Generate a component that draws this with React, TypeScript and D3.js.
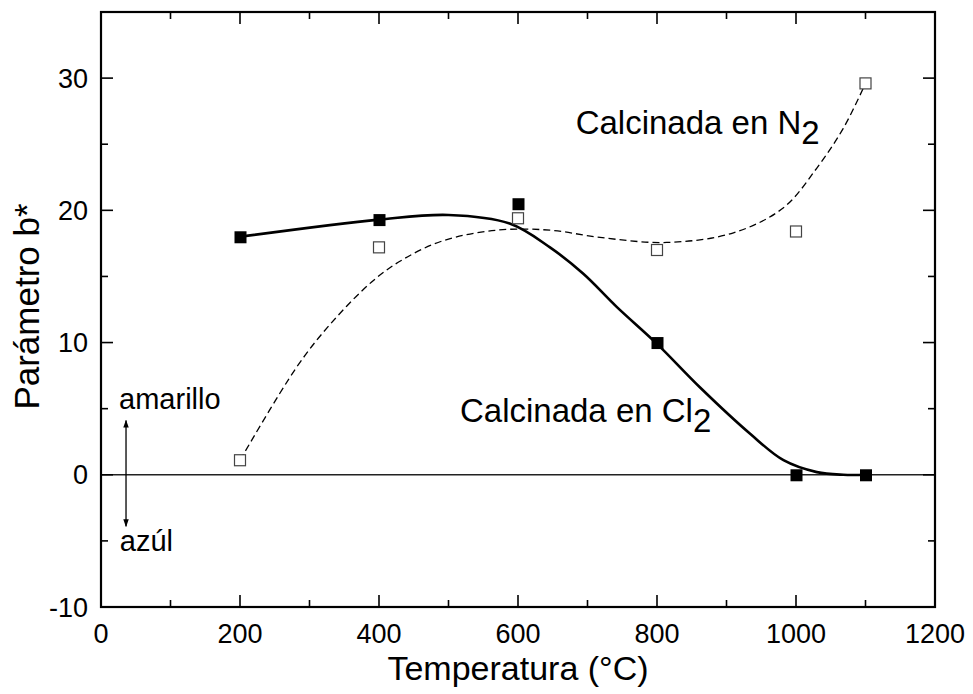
import React from "react";
import * as d3 from "d3";

// measured points
const tempCl2 = [200, 400, 600, 800, 1000, 1100];
const bCl2 = [18, 19.3, 20.5, 10, 0, 0];
const tempN2 = [200, 400, 600, 800, 1000, 1100];
const bN2 = [1.1, 17.2, 19.4, 17, 18.4, 29.6];

// guide curves
const fitCl2X = [200, 400, 500, 588, 646, 694, 742, 800, 862, 934, 982, 1030, 1068, 1100];
const fitCl2Y = [18, 19.3, 19.65, 19.0, 17.2, 15.2, 12.7, 9.9, 6.6, 3.1, 1.1, 0.2, 0, 0];
const fitN2X = [200, 281, 330, 392, 435, 492, 569, 646, 718, 814, 910, 982, 1030, 1068, 1100];
const fitN2Y = [1.1, 8.1, 11.4, 14.7, 16.3, 17.7, 18.5, 18.5, 17.95, 17.57, 18.3, 20.2, 23.2, 26.2, 29.6];

const xMajor = [0, 200, 400, 600, 800, 1000, 1200];
const xMinor = [100, 300, 500, 700, 900, 1100];
const yMajor = [-10, 0, 10, 20, 30];
const yMinor = [-5, 5, 15, 25];

const W = 973;
const H = 694;
const left = 101;
const right = 935;
const top = 12;
const bottom = 607;
const font = "Liberation Sans, Arial, sans-serif";

const App = () => {
  const x = d3.scaleLinear().domain([0, 1200]).range([left, right]);
  const y = d3.scaleLinear().domain([-10, 35]).range([bottom, top]);

  const solid = d3
    .line<number>()
    .x((d, i) => x(fitCl2X[i]))
    .y((d) => y(d))
    .curve(d3.curveCatmullRom.alpha(0.5))(fitCl2Y);
  const dashed = d3
    .line<number>()
    .x((d, i) => x(fitN2X[i]))
    .y((d) => y(d))
    .curve(d3.curveCatmullRom.alpha(0.5))(fitN2Y);

  const s = 11;

  return (
    <svg
      width={W}
      height={H}
      style={{ position: "absolute", left: 0, top: 0, background: "#fff" }}
      fontFamily={font}
    >
      <defs>
        <marker id="ah" viewBox="0 0 10 10" refX="9" refY="5" markerWidth="6" markerHeight="8" orient="auto-start-reverse">
          <path d="M0,1.5 L10,5 L0,8.5 z" fill="#000" />
        </marker>
      </defs>

      {/* zero line */}
      <line x1={left} x2={right} y1={y(0)} y2={y(0)} stroke="#222" strokeWidth={1.4} />

      {/* curves */}
      <path d={dashed ?? ""} fill="none" stroke="#000" strokeWidth={1.3} strokeDasharray="7,4" />
      <path d={solid ?? ""} fill="none" stroke="#000" strokeWidth={2.6} />

      {/* markers */}
      {tempN2.map((t, i) => (
        <rect key={"n" + i} x={x(t) - s / 2} y={y(bN2[i]) - s / 2} width={s} height={s} fill="#fff" stroke="#444" strokeWidth={1.2} />
      ))}
      {tempCl2.map((t, i) => (
        <rect key={"c" + i} x={x(t) - s / 2} y={y(bCl2[i]) - s / 2} width={s + 1} height={s + 1} fill="#000" />
      ))}

      {/* ticks */}
      {xMajor.map((t) => (
        <g key={"xm" + t} stroke="#000" strokeWidth={1.6}>
          <line x1={x(t)} x2={x(t)} y1={bottom} y2={bottom - 12} />
          <line x1={x(t)} x2={x(t)} y1={top} y2={top + 12} />
        </g>
      ))}
      {xMinor.map((t) => (
        <g key={"xn" + t} stroke="#000" strokeWidth={1.6}>
          <line x1={x(t)} x2={x(t)} y1={bottom} y2={bottom - 7} />
          <line x1={x(t)} x2={x(t)} y1={top} y2={top + 7} />
        </g>
      ))}
      {yMajor.map((t) => (
        <g key={"ym" + t} stroke="#000" strokeWidth={1.6}>
          <line x1={left} x2={left + 12} y1={y(t)} y2={y(t)} />
          <line x1={right} x2={right - 12} y1={y(t)} y2={y(t)} />
        </g>
      ))}
      {yMinor.map((t) => (
        <g key={"yn" + t} stroke="#000" strokeWidth={1.6}>
          <line x1={left} x2={left + 7} y1={y(t)} y2={y(t)} />
          <line x1={right} x2={right - 7} y1={y(t)} y2={y(t)} />
        </g>
      ))}

      {/* frame */}
      <rect x={left} y={top} width={right - left} height={bottom - top} fill="none" stroke="#000" strokeWidth={2.2} />

      {/* tick labels */}
      {xMajor.map((t) => (
        <text key={"xl" + t} x={x(t)} y={643} textAnchor="middle" fontSize={27}>
          {t}
        </text>
      ))}
      {yMajor.map((t) => (
        <text key={"yl" + t} x={88} y={y(t)} dy="0.36em" textAnchor="end" fontSize={27}>
          {t}
        </text>
      ))}

      {/* axis titles */}
      <text x={(left + right) / 2} y={680} textAnchor="middle" fontSize={34}>
        Temperatura (°C)
      </text>
      <text transform={`translate(39, ${(top + bottom) / 2 - 3}) rotate(-90)`} textAnchor="middle" fontSize={35}>
        Parámetro b*
      </text>

      {/* annotations */}
      <text x={x(683)} y={y(25.8)} fontSize={33}>
        Calcinada en N<tspan dy={10}>2</tspan>
      </text>
      <text x={x(516.5)} y={y(3.96)} fontSize={33}>
        Calcinada en Cl<tspan dy={10}>2</tspan>
      </text>
      <text x={x(26)} y={y(5)} fontSize={29}>
        amarillo
      </text>
      <text x={x(27)} y={y(-5.75)} fontSize={29}>
        azúl
      </text>
      <line
        x1={x(36)}
        x2={x(36)}
        y1={y(4.1)}
        y2={y(-3.9)}
        stroke="#000"
        strokeWidth={1.3}
        markerStart="url(#ah)"
        markerEnd="url(#ah)"
      />
    </svg>
  );
};

export default App;
